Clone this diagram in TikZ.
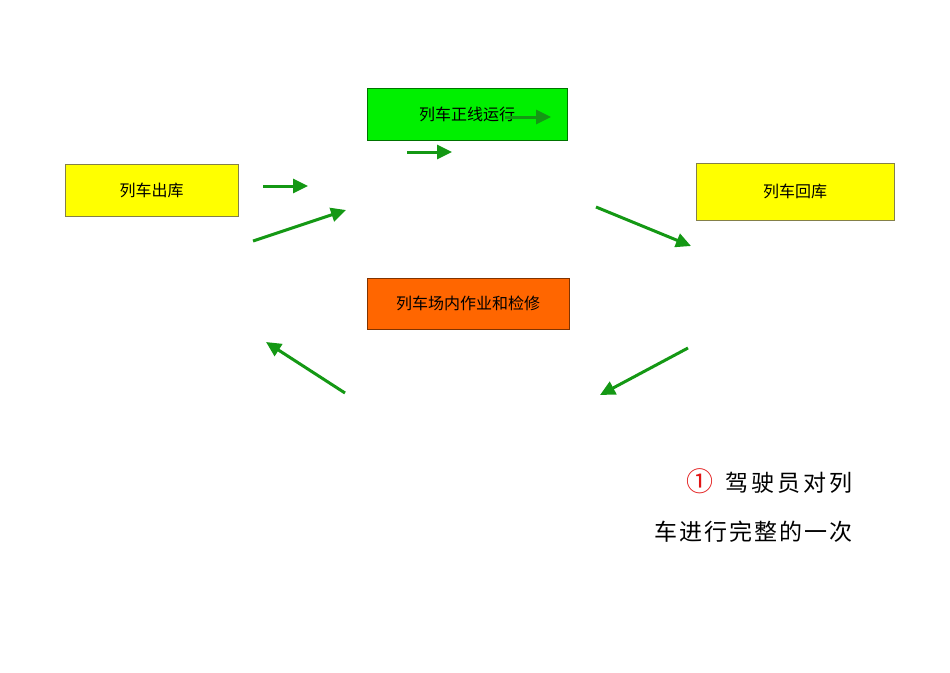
\documentclass[tikz,border=0pt]{standalone}
\usepackage{fontspec}
\setmainfont{Noto Sans CJK SC}
\usepackage{tikz}
\usetikzlibrary{arrows.meta, positioning}
\definecolor{boxyellow}{RGB}{255,255,0}
\definecolor{boxgreen}{RGB}{0,240,0}
\definecolor{boxorange}{RGB}{255,102,0}
\definecolor{arrowgreen}{RGB}{20,152,20}
\definecolor{circlered}{RGB}{225,20,20}

\begin{document}
\begin{tikzpicture}[
    x=1pt, y=-1pt,
    stagebox/.style={
      rectangle,
      draw=black!55!yellow,
      line width=0.8pt,
      minimum height=52pt,
      minimum width=200pt,
      inner sep=0pt,
      align=center,
      font=\fontsize{16}{19}\selectfont
    },
    flow/.style={
      -{Triangle[length=15pt,width=14pt]},
      line width=3pt,
      draw=arrowgreen
    },
    note/.style={
      inner sep=0pt,
      anchor=east,
      font=\fontsize{23}{28}\selectfont
    }
  ]
    \useasboundingbox (0,0) rectangle (950,672);

    % Stages
    \node (depot) [stagebox, fill=boxyellow, minimum width=173pt] at (151.5,190) {列车出库};
    \node (mainline) [stagebox, fill=boxgreen, draw=green!45!black] at (467,114) {列车正线运行};
    \node (back) [stagebox, fill=boxyellow, minimum width=198pt, minimum height=57pt] at (795,191.5) {列车回库};
    \node (yard) [stagebox, fill=boxorange, draw=boxorange!50!black, minimum width=202pt, minimum height=51pt] at (468,303.5) {列车场内作业和检修};

    % Arrow ends
    \coordinate (a1s) at (263,186);   \coordinate (a1e) at (308,186);
    \coordinate (a2s) at (253,241);   \coordinate (a2e) at (346,210);
    \coordinate (a3s) at (407,152);   \coordinate (a3e) at (452,152);
    \coordinate (a4s) at (505,117);   \coordinate (a4e) at (551,117);
    \coordinate (a5s) at (596,207);   \coordinate (a5e) at (691,246);
    \coordinate (a6s) at (688,348);   \coordinate (a6e) at (600,395);
    \coordinate (a7s) at (345,393);   \coordinate (a7e) at (266,342);

    % Connections
    \draw [flow] (a1s) -- (a1e);
    \draw [flow] (a2s) -- (a2e);
    \draw [flow] (a3s) -- (a3e);
    \draw [flow] (a4s) -- (a4e);
    \draw [flow] (a5s) -- (a5e);
    \draw [flow] (a6s) -- (a6e);
    \draw [flow] (a7s) -- (a7e);

    % Note
    \node (note1) [note] at (853,481) {\textcolor{circlered}{\fontsize{27}{28}\selectfont ①}\hspace{12pt}驾\hspace{3pt}驶\hspace{3pt}员\hspace{3pt}对\hspace{3pt}列};
    \node (note2) [note] at (853,532) {车\hspace{2pt}进\hspace{2pt}行\hspace{2pt}完\hspace{2pt}整\hspace{2pt}的\hspace{2pt}一\hspace{2pt}次};
\end{tikzpicture}
\end{document}
